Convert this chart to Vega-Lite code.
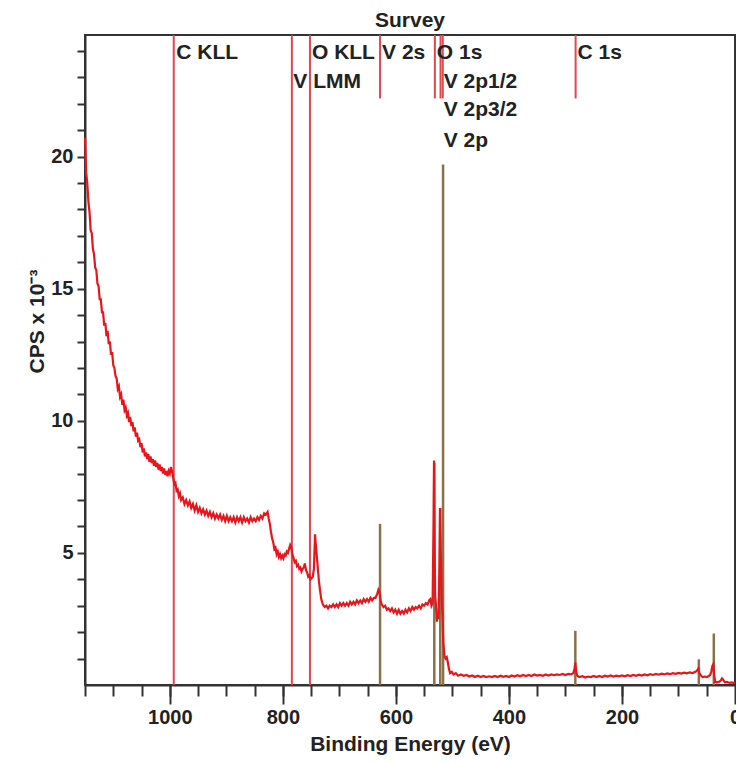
{
  "$schema": "https://vega.github.io/schema/vega-lite/v6.json",
  "width": 650,
  "height": 650,
  "autosize": "none",
  "padding": {"left": 85, "top": 35, "right": 1, "bottom": 79},
  "background": "white",
  "title": {"text": "Survey", "fontSize": 21, "fontWeight": "bold", "font": "Liberation Sans", "color": "#222", "anchor": "middle", "frame": "group", "offset": 3},
  "config": {
    "view": {"stroke": "#333", "strokeWidth": 2},
    "font": "Liberation Sans",
    "axis": {"grid": false}
  },
  "datasets": {
    "spec": [
      {"e":1150,"c":20.7},{"e":1149,"c":20.1},{"e":1148,"c":19.4},{"e":1146,"c":19.0},{"e":1144,"c":18.3},{"e":1142,"c":17.9},{"e":1140,"c":17.2},{"e":1138,"c":17.1},{"e":1136,"c":16.5},{"e":1134,"c":16.3},{"e":1132,"c":15.8},{"e":1130,"c":15.7},{"e":1128,"c":15.2},{"e":1126,"c":15.1},{"e":1124,"c":14.6},{"e":1122,"c":14.6},{"e":1120,"c":14.1},{"e":1118,"c":14.1},{"e":1116,"c":13.6},{"e":1114,"c":13.7},{"e":1112,"c":13.2},{"e":1110,"c":13.4},{"e":1108,"c":12.9},{"e":1106,"c":13.0},{"e":1104,"c":12.5},{"e":1102,"c":12.6},{"e":1100,"c":12.1},{"e":1098,"c":12.0},{"e":1096,"c":11.7},{"e":1094,"c":11.6},{"e":1092,"c":11.2},{"e":1090,"c":11.3},{"e":1088,"c":10.9},{"e":1086,"c":11.0},{"e":1084,"c":10.6},{"e":1082,"c":10.8},{"e":1080,"c":10.4},{"e":1078,"c":10.5},{"e":1076,"c":10.2},{"e":1074,"c":10.3},{"e":1072,"c":9.95},{"e":1070,"c":10.15},{"e":1068,"c":9.8},{"e":1066,"c":9.95},{"e":1064,"c":9.6},{"e":1062,"c":9.75},{"e":1060,"c":9.4},{"e":1058,"c":9.55},{"e":1056,"c":9.25},{"e":1054,"c":9.3},{"e":1052,"c":9.0},{"e":1050,"c":9.15},{"e":1048,"c":8.8},{"e":1046,"c":8.95},{"e":1044,"c":8.65},{"e":1042,"c":8.8},{"e":1040,"c":8.55},{"e":1038,"c":8.75},{"e":1036,"c":8.45},{"e":1034,"c":8.65},{"e":1032,"c":8.4},{"e":1030,"c":8.55},{"e":1028,"c":8.3},{"e":1026,"c":8.5},{"e":1024,"c":8.25},{"e":1022,"c":8.4},{"e":1020,"c":8.15},{"e":1018,"c":8.35},{"e":1016,"c":8.1},{"e":1014,"c":8.25},{"e":1012,"c":8.0},{"e":1010,"c":8.2},{"e":1008,"c":7.95},{"e":1006,"c":8.1},{"e":1004,"c":7.9},{"e":1002,"c":8.1},{"e":1000,"c":8.0},{"e":998,"c":8.25},{"e":996,"c":8.1},{"e":994,"c":7.85},{"e":992,"c":7.6},{"e":990,"c":7.65},{"e":988,"c":7.35},{"e":986,"c":7.4},{"e":984,"c":7.15},{"e":982,"c":7.25},{"e":980,"c":7.0},{"e":977,"c":7.1},{"e":974,"c":6.85},{"e":971,"c":7.0},{"e":968,"c":6.8},{"e":965,"c":6.95},{"e":962,"c":6.7},{"e":959,"c":6.85},{"e":956,"c":6.6},{"e":953,"c":6.8},{"e":950,"c":6.55},{"e":947,"c":6.7},{"e":944,"c":6.5},{"e":941,"c":6.65},{"e":938,"c":6.45},{"e":935,"c":6.6},{"e":932,"c":6.4},{"e":929,"c":6.55},{"e":926,"c":6.35},{"e":923,"c":6.5},{"e":920,"c":6.3},{"e":917,"c":6.45},{"e":914,"c":6.3},{"e":911,"c":6.45},{"e":908,"c":6.25},{"e":905,"c":6.4},{"e":902,"c":6.2},{"e":899,"c":6.4},{"e":896,"c":6.2},{"e":893,"c":6.35},{"e":890,"c":6.2},{"e":887,"c":6.35},{"e":884,"c":6.15},{"e":881,"c":6.35},{"e":878,"c":6.2},{"e":875,"c":6.35},{"e":872,"c":6.15},{"e":869,"c":6.35},{"e":866,"c":6.2},{"e":863,"c":6.3},{"e":860,"c":6.15},{"e":857,"c":6.35},{"e":854,"c":6.2},{"e":851,"c":6.3},{"e":848,"c":6.2},{"e":845,"c":6.35},{"e":842,"c":6.25},{"e":839,"c":6.4},{"e":836,"c":6.3},{"e":833,"c":6.5},{"e":830,"c":6.45},{"e":827,"c":6.55},{"e":825,"c":6.3},{"e":823,"c":6.1},{"e":821,"c":5.8},{"e":819,"c":5.55},{"e":817,"c":5.4},{"e":815,"c":5.15},{"e":813,"c":5.2},{"e":811,"c":4.95},{"e":809,"c":5.05},{"e":807,"c":4.85},{"e":805,"c":4.95},{"e":803,"c":4.8},{"e":801,"c":4.9},{"e":799,"c":4.8},{"e":797,"c":4.95},{"e":795,"c":4.9},{"e":793,"c":5.05},{"e":791,"c":5.0},{"e":789,"c":5.15},{"e":787,"c":5.3},{"e":785,"c":5.2},{"e":783,"c":4.95},{"e":781,"c":4.8},{"e":779,"c":4.65},{"e":777,"c":4.7},{"e":775,"c":4.5},{"e":773,"c":4.55},{"e":771,"c":4.4},{"e":769,"c":4.45},{"e":767,"c":4.3},{"e":765,"c":4.4},{"e":763,"c":4.45},{"e":761,"c":4.6},{"e":759,"c":4.35},{"e":757,"c":4.25},{"e":755,"c":4.1},{"e":753,"c":4.15},{"e":751,"c":4.0},{"e":749,"c":4.05},{"e":747,"c":4.1},{"e":745,"c":4.4},{"e":743,"c":5.7},{"e":742,"c":5.4},{"e":740,"c":4.9},{"e":738,"c":4.4},{"e":736,"c":3.9},{"e":734,"c":3.55},{"e":732,"c":3.25},{"e":730,"c":3.1},{"e":728,"c":3.0},{"e":726,"c":2.95},{"e":723,"c":3.0},{"e":720,"c":2.9},{"e":717,"c":3.0},{"e":714,"c":2.95},{"e":711,"c":3.05},{"e":708,"c":2.95},{"e":705,"c":3.05},{"e":702,"c":2.95},{"e":699,"c":3.1},{"e":696,"c":3.0},{"e":693,"c":3.1},{"e":690,"c":3.0},{"e":687,"c":3.1},{"e":684,"c":3.0},{"e":681,"c":3.15},{"e":678,"c":3.05},{"e":675,"c":3.15},{"e":672,"c":3.05},{"e":669,"c":3.2},{"e":666,"c":3.1},{"e":663,"c":3.2},{"e":660,"c":3.1},{"e":657,"c":3.25},{"e":654,"c":3.15},{"e":651,"c":3.25},{"e":648,"c":3.15},{"e":645,"c":3.3},{"e":642,"c":3.2},{"e":639,"c":3.3},{"e":636,"c":3.3},{"e":633,"c":3.45},{"e":631,"c":3.6},{"e":629,"c":3.5},{"e":627,"c":3.2},{"e":625,"c":3.05},{"e":622,"c":2.95},{"e":619,"c":3.0},{"e":616,"c":2.85},{"e":613,"c":2.9},{"e":610,"c":2.8},{"e":607,"c":2.9},{"e":604,"c":2.75},{"e":601,"c":2.85},{"e":598,"c":2.7},{"e":595,"c":2.85},{"e":592,"c":2.7},{"e":589,"c":2.8},{"e":586,"c":2.7},{"e":583,"c":2.85},{"e":580,"c":2.75},{"e":577,"c":2.9},{"e":574,"c":2.8},{"e":571,"c":2.95},{"e":568,"c":2.85},{"e":565,"c":2.95},{"e":562,"c":2.9},{"e":559,"c":3.0},{"e":556,"c":2.9},{"e":553,"c":3.05},{"e":550,"c":3.0},{"e":547,"c":3.1},{"e":544,"c":3.05},{"e":541,"c":3.2},{"e":539,"c":3.25},{"e":537,"c":3.0},{"e":535,"c":3.1},{"e":533.5,"c":5.9},{"e":532.5,"c":8.5},{"e":531.5,"c":5.5},{"e":530.5,"c":3.4},{"e":529,"c":3.0},{"e":527.5,"c":2.4},{"e":526,"c":2.7},{"e":524.5,"c":2.5},{"e":523,"c":4.6},{"e":522,"c":6.7},{"e":520.5,"c":5.0},{"e":519,"c":3.3},{"e":517.5,"c":2.6},{"e":516,"c":1.6},{"e":514,"c":1.1},{"e":512,"c":1.0},{"e":510,"c":1.05},{"e":508,"c":0.85},{"e":506,"c":0.6},{"e":504,"c":0.45},{"e":501,"c":0.5},{"e":498,"c":0.4},{"e":494,"c":0.45},{"e":490,"c":0.35},{"e":485,"c":0.4},{"e":480,"c":0.35},{"e":475,"c":0.38},{"e":470,"c":0.32},{"e":465,"c":0.36},{"e":460,"c":0.3},{"e":455,"c":0.35},{"e":450,"c":0.3},{"e":445,"c":0.34},{"e":440,"c":0.3},{"e":435,"c":0.33},{"e":430,"c":0.3},{"e":425,"c":0.34},{"e":420,"c":0.3},{"e":415,"c":0.35},{"e":410,"c":0.31},{"e":405,"c":0.34},{"e":400,"c":0.3},{"e":395,"c":0.36},{"e":390,"c":0.32},{"e":385,"c":0.37},{"e":380,"c":0.33},{"e":375,"c":0.38},{"e":370,"c":0.34},{"e":365,"c":0.38},{"e":360,"c":0.34},{"e":355,"c":0.4},{"e":350,"c":0.36},{"e":345,"c":0.38},{"e":340,"c":0.35},{"e":335,"c":0.4},{"e":330,"c":0.36},{"e":325,"c":0.4},{"e":320,"c":0.37},{"e":315,"c":0.4},{"e":310,"c":0.38},{"e":305,"c":0.42},{"e":300,"c":0.38},{"e":295,"c":0.42},{"e":290,"c":0.4},{"e":286,"c":0.45},{"e":284,"c":0.6},{"e":282.5,"c":0.85},{"e":281,"c":0.5},{"e":279,"c":0.35},{"e":275,"c":0.3},{"e":270,"c":0.33},{"e":265,"c":0.28},{"e":260,"c":0.32},{"e":255,"c":0.3},{"e":250,"c":0.34},{"e":245,"c":0.3},{"e":240,"c":0.34},{"e":235,"c":0.3},{"e":230,"c":0.35},{"e":225,"c":0.32},{"e":220,"c":0.36},{"e":215,"c":0.32},{"e":210,"c":0.35},{"e":205,"c":0.33},{"e":200,"c":0.36},{"e":195,"c":0.33},{"e":190,"c":0.37},{"e":185,"c":0.34},{"e":180,"c":0.38},{"e":175,"c":0.35},{"e":170,"c":0.39},{"e":165,"c":0.36},{"e":160,"c":0.4},{"e":155,"c":0.37},{"e":150,"c":0.41},{"e":145,"c":0.38},{"e":140,"c":0.42},{"e":135,"c":0.39},{"e":130,"c":0.43},{"e":125,"c":0.4},{"e":120,"c":0.44},{"e":115,"c":0.41},{"e":110,"c":0.45},{"e":105,"c":0.42},{"e":100,"c":0.46},{"e":95,"c":0.43},{"e":90,"c":0.47},{"e":85,"c":0.44},{"e":80,"c":0.48},{"e":75,"c":0.45},{"e":70,"c":0.5},{"e":67,"c":0.55},{"e":65,"c":0.62},{"e":63,"c":0.45},{"e":60,"c":0.35},{"e":57,"c":0.3},{"e":54,"c":0.32},{"e":50,"c":0.3},{"e":47,"c":0.33},{"e":44,"c":0.38},{"e":42,"c":0.5},{"e":40,"c":0.72},{"e":38.5,"c":0.78},{"e":37,"c":0.4},{"e":35,"c":0.12},{"e":32,"c":0.1},{"e":28,"c":0.12},{"e":25,"c":0.18},{"e":23,"c":0.25},{"e":21,"c":0.2},{"e":18,"c":0.1},{"e":14,"c":0.12},{"e":10,"c":0.08},{"e":6,"c":0.1},{"e":2,"c":0.07},{"e":0,"c":0.08}
    ],
    "refs": [
      {"e": 993, "lo": 0, "hi": 24.6},
      {"e": 784, "lo": 0, "hi": 24.6},
      {"e": 752, "lo": 0, "hi": 24.6},
      {"e": 628, "lo": 22.2, "hi": 24.6},
      {"e": 531, "lo": 22.2, "hi": 24.6},
      {"e": 521, "lo": 22.2, "hi": 24.6},
      {"e": 517, "lo": 22.2, "hi": 24.6},
      {"e": 282, "lo": 22.2, "hi": 24.6}
    ],
    "peaks": [
      {"e": 628, "lo": 0, "h": 6.1},
      {"e": 532, "lo": 0, "h": 8.4},
      {"e": 521.5, "lo": 0, "h": 6.7},
      {"e": 516.5, "lo": 0, "h": 19.7},
      {"e": 282.5, "lo": 0, "h": 2.05},
      {"e": 64, "lo": 0, "h": 0.97},
      {"e": 37.5, "lo": 0, "h": 1.95}
    ],
    "labels": [
      {"e": 992, "y": 23.71, "t": "C KLL"},
      {"e": 785, "y": 22.61, "t": "V LMM"},
      {"e": 752, "y": 23.71, "t": "O KLL"},
      {"e": 628, "y": 23.71, "t": "V 2s"},
      {"e": 531, "y": 23.71, "t": "O 1s"},
      {"e": 519, "y": 22.61, "t": "V 2p1/2"},
      {"e": 519, "y": 21.52, "t": "V 2p3/2"},
      {"e": 519, "y": 20.38, "t": "V 2p"},
      {"e": 282, "y": 23.71, "t": "C 1s"}
    ]
  },
  "resolve": {"axis": {"x": "independent", "y": "independent"}},
  "layer": [
    {
      "data": {"name": "refs"},
      "mark": {"type": "rule", "color": "#e2474c", "strokeWidth": 2},
      "encoding": {
        "x": {"field": "e", "type": "quantitative", "scale": {"domain": [0, 1150], "reverse": true, "nice": false}, "axis": null},
        "y": {"field": "lo", "type": "quantitative", "scale": {"domain": [0, 24.6], "nice": false}, "axis": null},
        "y2": {"field": "hi"}
      }
    },
    {
      "data": {"name": "peaks"},
      "mark": {"type": "rule", "color": "#8c7049", "strokeWidth": 2.5},
      "encoding": {
        "x": {"field": "e", "type": "quantitative", "scale": {"domain": [0, 1150], "reverse": true, "nice": false},
          "axis": {"orient": "bottom", "values": [50,100,150,200,250,300,350,400,450,500,550,600,650,700,750,800,850,900,950,1000,1050,1100,1150], "labels": false, "title": null, "domain": false, "tickSize": 11, "tickWidth": 2, "tickColor": "#333"}},
        "y": {"field": "lo", "type": "quantitative", "scale": {"domain": [0, 24.6], "nice": false}, "axis": null},
        "y2": {"field": "h"}
      }
    },
    {
      "data": {"name": "spec"},
      "mark": {"type": "line", "color": "#e8161b", "strokeWidth": 2.2},
      "encoding": {
        "x": {"field": "e", "type": "quantitative", "scale": {"domain": [0, 1150], "reverse": true, "nice": false},
          "axis": {"orient": "bottom", "values": [0, 200, 400, 600, 800, 1000], "format": "d", "title": "Binding Energy (eV)", "tickSize": 19, "tickWidth": 2, "tickColor": "#333", "domainColor": "#333", "domainWidth": 2, "labelFontSize": 20, "labelFontWeight": "bold", "labelColor": "#222", "labelPadding": 3, "labelFlush": false, "titleFontSize": 21, "titleFontWeight": "bold", "titleColor": "#222", "titleBaseline": "alphabetic", "titleY": 65, "titleX": 325}},
        "y": {"field": "c", "type": "quantitative", "scale": {"domain": [0, 24.6], "nice": false},
          "axis": {"values": [1,2,3,4,5,6,7,8,9,10,11,12,13,14,15,16,17,18,19,20,21,22,23,24], "labelExpr": "datum.value % 5 === 0 ? datum.label : ''", "title": "CPS x 10⁻³", "tickSize": 8, "tickWidth": 2, "tickColor": "#333", "domainColor": "#333", "domainWidth": 2, "labelFontSize": 20, "labelFontWeight": "bold", "labelColor": "#222", "labelPadding": 4, "titleFontSize": 21, "titleFontWeight": "bold", "titleColor": "#222", "titleAngle": 270, "titleBaseline": "alphabetic", "titleAlign": "center", "titleX": -42, "titleY": 286}},
        "order": {"field": "e", "type": "quantitative", "sort": "descending"}
      }
    },
    {
      "data": {"name": "labels"},
      "mark": {"type": "text", "align": "left", "baseline": "alphabetic", "dx": 2, "fontSize": 21, "fontWeight": "bold", "color": "#222", "font": "Liberation Sans"},
      "encoding": {
        "x": {"field": "e", "type": "quantitative", "scale": {"domain": [0, 1150], "reverse": true, "nice": false}, "axis": null},
        "y": {"field": "y", "type": "quantitative", "scale": {"domain": [0, 24.6], "nice": false}, "axis": null},
        "text": {"field": "t"}
      }
    }
  ]
}
